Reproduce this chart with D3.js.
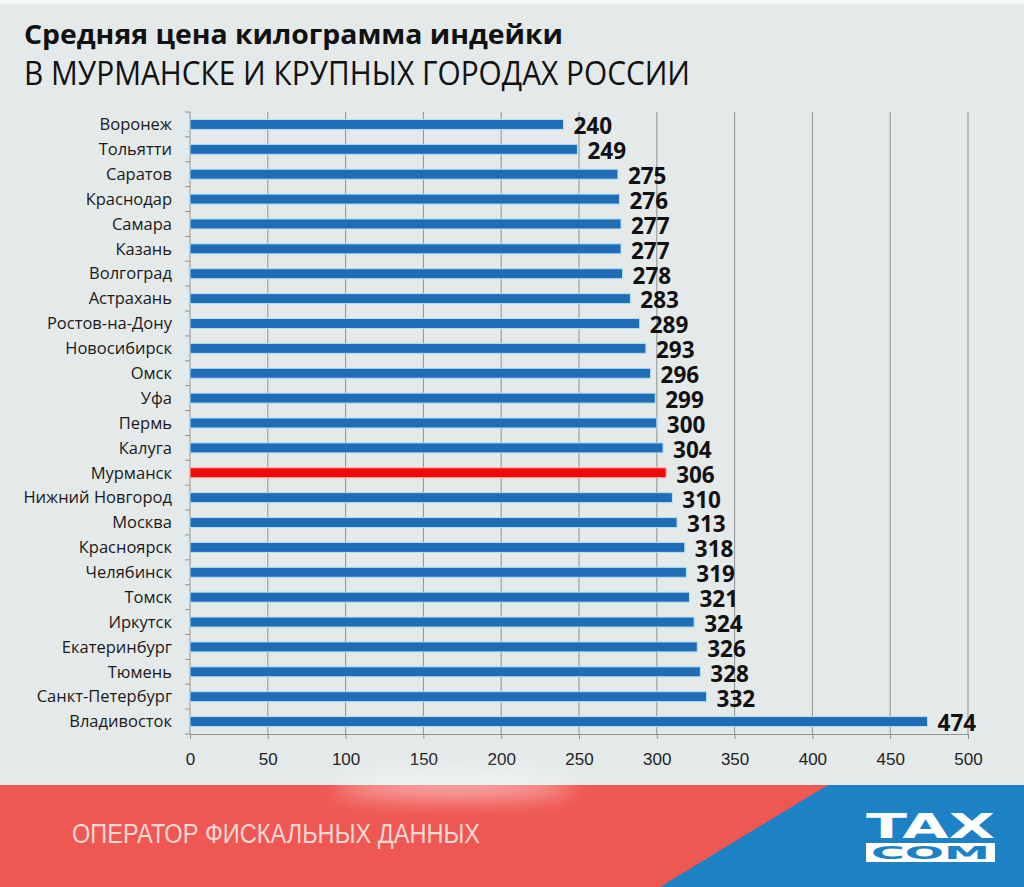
<!DOCTYPE html>
<html lang="ru">
<head>
    <meta charset="UTF-8" />
    <script src="https://cdn.jsdelivr.net/npm/d3@7"></script>
    <style>
        body { margin: 0; background: #e4e9e9; }
        svg { display: block; }
    </style>
</head>
<body>
    <div id="chart"></div>
    <script>
        const cities = ["Воронеж", "Тольятти", "Саратов", "Краснодар", "Самара", "Казань", "Волгоград",
            "Астрахань", "Ростов-на-Дону", "Новосибирск", "Омск", "Уфа", "Пермь", "Калуга", "Мурманск",
            "Нижний Новгород", "Москва", "Красноярск", "Челябинск", "Томск", "Иркутск", "Екатеринбург",
            "Тюмень", "Санкт-Петербург", "Владивосток"];
        const prices = [240, 249, 275, 276, 277, 277, 278, 283, 289, 293, 296, 299, 300, 304, 306,
            310, 313, 318, 319, 321, 324, 326, 328, 332, 474];
        const xTicks = [0, 50, 100, 150, 200, 250, 300, 350, 400, 450, 500];
        const highlight = "Мурманск";

        const W = 1024, H = 887;
        const data = cities.map((c, i) => ({ city: c, price: prices[i] }));

        const svg = d3.select("#chart").append("svg")
            .attr("width", W).attr("height", H);

        const defs = svg.append("defs");
        defs.append("filter").attr("id", "glow")
            .attr("x", "-50%").attr("y", "-200%").attr("width", "200%").attr("height", "500%")
            .append("feGaussianBlur").attr("stdDeviation", 12);

        // background
        svg.append("rect").attr("width", W).attr("height", H).attr("fill", "#e4e9e9");
        svg.append("rect").attr("width", W).attr("height", 4).attr("fill", "#f7f8f8");

        // title
        svg.append("text")
            .attr("x", 24).attr("y", 44)
            .attr("font-family", "Open Sans").attr("font-weight", "bold")
            .attr("font-size", 27).attr("fill", "#111")
            .attr("textLength", 539).attr("lengthAdjust", "spacingAndGlyphs")
            .text("Средняя цена килограмма индейки");
        svg.append("text")
            .attr("x", 24).attr("y", 85)
            .attr("font-family", "Open Sans")
            .attr("font-size", 33).attr("fill", "#111")
            .attr("textLength", 666).attr("lengthAdjust", "spacingAndGlyphs")
            .text("В МУРМАНСКЕ И КРУПНЫХ ГОРОДАХ РОССИИ");

        // scales
        const x = d3.scaleLinear().domain([0, 500]).range([190, 968]);
        const y = d3.scaleBand().domain(cities).range([112, 734])
            .paddingInner(0.6).paddingOuter(0.3);

        // gridlines
        svg.append("g")
            .selectAll("line")
            .data(xTicks.slice(1))
            .join("line")
            .attr("x1", d => x(d)).attr("x2", d => x(d))
            .attr("y1", 112).attr("y2", 734)
            .attr("stroke", "#8e9393").attr("stroke-width", 1);

        // bottom axis
        const xAxis = svg.append("g")
            .attr("transform", "translate(0,734)")
            .call(d3.axisBottom(x).tickValues(xTicks).tickSize(5).tickPadding(14).tickSizeOuter(0));
        xAxis.select(".domain").attr("stroke", "#8e9393");
        xAxis.selectAll(".tick line").attr("stroke", "#8e9393");
        xAxis.selectAll("text")
            .attr("font-family", "Liberation Sans Narrow, Arial Narrow, sans-serif")
            .attr("font-size", 17).attr("fill", "#222");

        // left axis with ticks between bands
        const leftAxis = svg.append("g");
        leftAxis.append("line")
            .attr("x1", 190).attr("x2", 190).attr("y1", 112).attr("y2", 734)
            .attr("stroke", "#8e9393");
        const bounds = cities.map(c => y(c) - y.step() * y.paddingInner() / 2);
        bounds.push(734);
        leftAxis.selectAll("line.tick")
            .data(bounds)
            .join("line")
            .attr("class", "tick")
            .attr("x1", 185).attr("x2", 190)
            .attr("y1", d => d).attr("y2", d => d)
            .attr("stroke", "#8e9393");

        // city labels
        svg.append("g")
            .selectAll("text")
            .data(data)
            .join("text")
            .attr("x", 172)
            .attr("y", d => y(d.city) + y.bandwidth() / 2)
            .attr("dy", "0.35em")
            .attr("text-anchor", "end")
            .attr("font-family", "Open Sans")
            .attr("font-size", 16.5).attr("fill", "#1a1a1a")
            .text(d => d.city);

        // bars
        svg.append("g")
            .selectAll("rect")
            .data(data)
            .join("rect")
            .attr("x", x(0))
            .attr("y", d => y(d.city))
            .attr("width", d => x(d.price) - x(0))
            .attr("height", y.bandwidth())
            .attr("fill", d => d.city === highlight ? "#f20a0a" : "#1f6db6")
            .attr("stroke", d => d.city === highlight ? "#f7b5b0" : "#b3dff2")
            .attr("stroke-width", 1);

        // value labels
        svg.append("g")
            .selectAll("text")
            .data(data)
            .join("text")
            .attr("x", d => x(d.price) + 10)
            .attr("y", d => y(d.city) + y.bandwidth() / 2 + 2)
            .attr("dy", "0.35em")
            .attr("font-family", "Open Sans").attr("font-weight", "bold")
            .attr("font-size", 22.5).attr("fill", "#111")
            .text(d => d.price);

        // footer banner
        svg.append("rect").attr("x", 0).attr("y", 785).attr("width", W).attr("height", H - 785)
            .attr("fill", "#ef5752");
        svg.append("ellipse").attr("cx", 455).attr("cy", 786).attr("rx", 120).attr("ry", 9)
            .attr("fill", "#ffffff").attr("opacity", 0.75).attr("filter", "url(#glow)");
        svg.append("polygon")
            .attr("points", "828,785 1024,785 1024,887 660,887")
            .attr("fill", "#1d81c6");
        svg.append("text")
            .attr("x", 72).attr("y", 843)
            .attr("font-family", "Liberation Sans Narrow, Arial Narrow, sans-serif")
            .attr("font-size", 27).attr("fill", "#fbd9d3")
            .attr("textLength", 408).attr("lengthAdjust", "spacingAndGlyphs")
            .text("ОПЕРАТОР ФИСКАЛЬНЫХ ДАННЫХ");

        // logo
        const logo = svg.append("g");
        logo.append("text")
            .attr("x", 866).attr("y", 838)
            .attr("font-family", "DejaVu Sans").attr("font-weight", "bold")
            .attr("font-size", 34).attr("fill", "#ffffff")
            .attr("textLength", 129).attr("lengthAdjust", "spacingAndGlyphs")
            .text("TAX");
        logo.append("rect").attr("x", 866).attr("y", 843).attr("width", 129).attr("height", 19)
            .attr("fill", "#ffffff");
        logo.append("text")
            .attr("x", 871).attr("y", 859)
            .attr("font-family", "DejaVu Sans").attr("font-weight", "bold")
            .attr("font-size", 18).attr("fill", "#1d81c6")
            .attr("textLength", 119).attr("lengthAdjust", "spacingAndGlyphs")
            .text("COM");
    </script>
</body>
</html>
